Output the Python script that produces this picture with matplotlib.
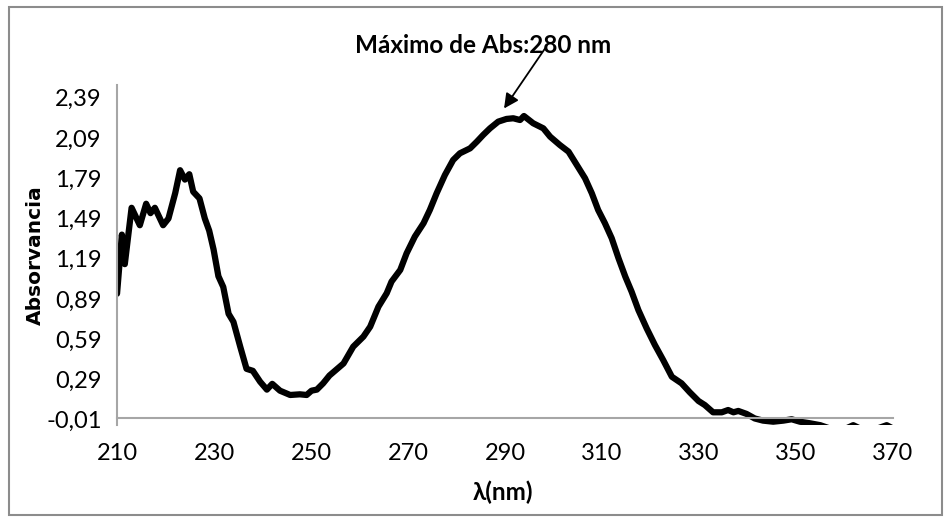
import matplotlib
matplotlib.use("Agg")
import matplotlib.pyplot as plt
from matplotlib.patches import Rectangle

# UV spectrum
wavelength = [210.0, 211.0, 211.6, 213.0, 214.7, 216.0, 216.9, 217.8, 219.5, 220.6,
              222.0, 223.0, 224.0, 224.9, 225.7, 227.0, 228.1, 229.0, 229.9, 230.9,
              231.9, 233.0, 234.0, 235.4, 236.7, 238.0, 239.5, 240.9, 242.0, 243.6,
              245.7, 247.7, 249.1, 250.1, 251.2, 252.5, 253.8, 256.7, 258.7, 260.8,
              262.2, 263.9, 265.6, 266.6, 268.4, 269.7, 271.4, 273.2, 274.5, 275.9,
              277.6, 279.3, 280.7, 282.8, 284.2, 285.5, 286.9, 288.6, 290.3, 291.7,
              293.1, 293.9, 295.8, 297.9, 299.3, 301.3, 303.1, 304.8, 306.5, 307.9,
              309.2, 310.6, 312.0, 313.4, 314.8, 316.1, 317.5, 319.2, 320.9, 322.6,
              324.4, 326.4, 328.1, 329.9, 331.2, 332.9, 334.7, 336.0, 337.1, 338.1,
              339.8, 341.5, 343.2, 345.3, 347.4, 349.1, 350.8, 352.9, 355.0, 357.0,
              360.0, 361.8, 363.5, 366.0, 368.7, 370.0]
absorbance = [0.93, 1.37, 1.15, 1.57, 1.44, 1.60, 1.53, 1.57, 1.44, 1.49,
              1.68, 1.85, 1.78, 1.82, 1.69, 1.64, 1.49, 1.40, 1.26, 1.06,
              0.98, 0.78, 0.72, 0.535, 0.37, 0.355, 0.274, 0.215, 0.258, 0.207,
              0.175, 0.18, 0.175, 0.207, 0.215, 0.262, 0.32, 0.41, 0.535, 0.61,
              0.684, 0.833, 0.933, 1.02, 1.107, 1.23, 1.355, 1.455, 1.554, 1.678,
              1.814, 1.926, 1.976, 2.013, 2.063, 2.113, 2.162, 2.212, 2.232, 2.237,
              2.224, 2.254, 2.20, 2.162, 2.10, 2.038, 1.988, 1.889, 1.79, 1.678,
              1.554, 1.455, 1.343, 1.194, 1.057, 0.945, 0.808, 0.672, 0.548, 0.436,
              0.311, 0.262, 0.195, 0.13, 0.10, 0.046, 0.046, 0.063, 0.046, 0.056,
              0.034, 0.0, -0.016, -0.024, -0.016, -0.006, -0.024, -0.036, -0.05, -0.075,
              -0.08, -0.05, -0.08, -0.085, -0.05, -0.075]

x_ticks = [210, 230, 250, 270, 290, 310, 330, 350, 370]
y_ticks = [-0.01, 0.29, 0.59, 0.89, 1.19, 1.49, 1.79, 2.09, 2.39]
y_labels = ["-0,01", "0,29", "0,59", "0,89", "1,19", "1,49", "1,79", "2,09", "2,39"]

plt.rcParams['font.family'] = ['Lato', 'DejaVu Sans']

fig = plt.figure(figsize=(9.5, 5.17), dpi=100)
ax = fig.add_axes([0.1232, 0.1789, 0.8168, 0.6567])

ax.plot(wavelength, absorbance, color='black', lw=4.5, solid_joinstyle='round',
        solid_capstyle='round')

ax.set_xlim(210, 370)
ax.set_ylim(-0.045, 2.485)
ax.set_xticks(x_ticks)
ax.set_yticks(y_ticks)
ax.set_yticklabels(y_labels)
ax.tick_params(length=0, labelsize=17, colors='black')
ax.tick_params(axis='x', pad=18)
ax.tick_params(axis='y', pad=11)

for side in ['top', 'right']:
    ax.spines[side].set_visible(False)
ax.spines['bottom'].set_position(('data', 0))
for side in ['left', 'bottom']:
    ax.spines[side].set_color('#a6a6a6')
    ax.spines[side].set_linewidth(1.5)

ax.set_ylabel('Absorvancia', family='DejaVu Sans', fontweight='bold', fontsize=14.5)
ax.yaxis.set_label_coords(-0.093, 0.5)
fig.text(0.5295, 0.047, 'λ(nm)', ha='center', va='center', fontweight='bold',
         fontsize=17.5)

# title and arrow pointing at the maximum
ax.text(285.5, 2.78, 'Máximo de Abs:280 nm', ha='center', va='center',
        fontsize=17.5, fontweight='bold', clip_on=False)
ax.annotate('', xy=(289.8, 2.31), xytext=(298.3, 2.76), annotation_clip=False,
            arrowprops=dict(arrowstyle='-|>', color='black', lw=1.3,
                            mutation_scale=22, shrinkA=0, shrinkB=0))

# chart border
fig.patches.append(Rectangle((9 / 950, 2 / 517), 933 / 950, 508 / 517,
                             transform=fig.transFigure, fill=False,
                             edgecolor='#8c8c8c', lw=1.5))

fig.savefig('out.png', dpi=100)
